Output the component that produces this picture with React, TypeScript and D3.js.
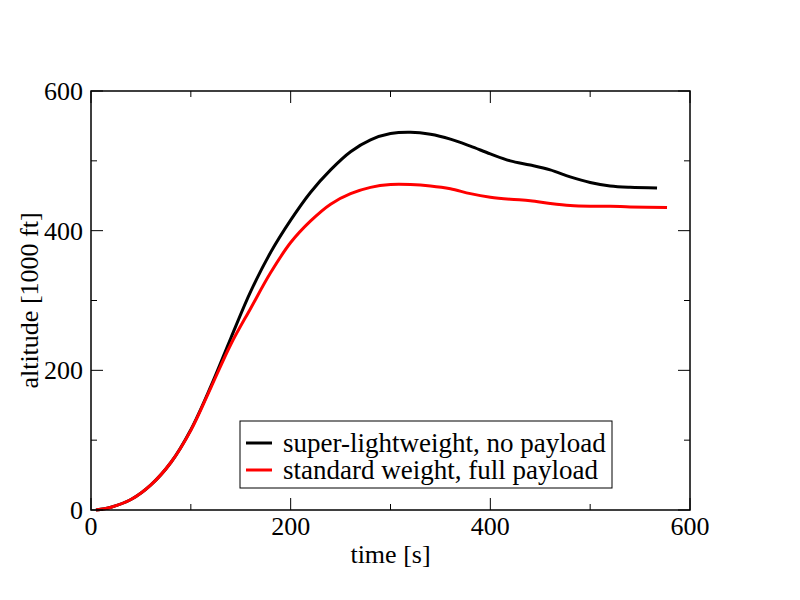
import React from 'react';
import * as d3 from 'd3';

const timeLight = [5, 20, 40, 60, 80, 100, 120, 140, 160, 180, 200, 220, 240, 260, 280, 300, 320, 340, 360, 380, 400, 420, 440, 460, 480, 500, 520, 540, 567];
const altLight = [0, 4, 15, 36, 68, 115, 177, 246, 313, 369, 415, 455, 487, 513, 530, 539, 541, 538, 531, 521, 510, 500, 494, 487, 477, 469, 464, 462, 461];

const timeStd = [5, 20, 40, 60, 80, 100, 120, 140, 160, 180, 200, 220, 240, 260, 280, 300, 320, 340, 360, 380, 400, 420, 440, 460, 480, 500, 520, 540, 577];
const altStd = [0, 4, 15, 36, 68, 114, 175, 237, 289, 340, 383, 414, 438, 453, 462, 466, 466, 464, 460, 453, 448, 445, 443, 439, 436, 435, 435, 434, 433];

const seriesNames = ['super-lightweight, no payload', 'standard weight, full payload'];
const seriesColors = ['#000000', '#ff0000'];

const xTicks = [0, 200, 400, 600];
const yTicks = [0, 200, 400, 600];
const xMinor = [100, 300, 500];
const yMinor = [100, 300, 500];

const FONT = '"Liberation Serif", "Times New Roman", serif';

export default function App() {
  const left = 91, right = 690, top = 91, bottom = 510;

  const x = d3.scaleLinear().domain([0, 600]).range([left, right]);
  const y = d3.scaleLinear().domain([0, 600]).range([bottom, top]);

  const line = d3.line<[number, number]>()
    .x(d => x(d[0]))
    .y(d => y(d[1]))
    .curve(d3.curveCatmullRom.alpha(0.5));

  const series = [
    timeLight.map((t, i) => [t, altLight[i]] as [number, number]),
    timeStd.map((t, i) => [t, altStd[i]] as [number, number]),
  ];

  const major = 12;
  const minor = 6;

  return (
    <svg width={800} height={600} style={{ position: 'absolute', left: 0, top: 0, background: '#fff' }} fontFamily={FONT}>
      <rect x={0} y={0} width={800} height={600} fill="#fff" />

      {/* data */}
      {series.map((s, i) => (
        <path key={i} d={line(s) || ''} fill="none" stroke={seriesColors[i]} strokeWidth={3} strokeLinejoin="round" />
      ))}

      {/* frame */}
      <rect x={left} y={top} width={right - left} height={bottom - top} fill="none" stroke="#000" strokeWidth={1.5} />

      {/* ticks */}
      <g stroke="#000" strokeWidth={1}>
        {xTicks.map(t => (
          <g key={'xt' + t}>
            <line x1={x(t)} x2={x(t)} y1={bottom} y2={bottom - major} />
            <line x1={x(t)} x2={x(t)} y1={top} y2={top + major} />
          </g>
        ))}
        {xMinor.map(t => (
          <g key={'xm' + t}>
            <line x1={x(t)} x2={x(t)} y1={bottom} y2={bottom - minor} />
            <line x1={x(t)} x2={x(t)} y1={top} y2={top + minor} />
          </g>
        ))}
        {yTicks.map(t => (
          <g key={'yt' + t}>
            <line x1={left} x2={left + major} y1={y(t)} y2={y(t)} />
            <line x1={right} x2={right - major} y1={y(t)} y2={y(t)} />
          </g>
        ))}
        {yMinor.map(t => (
          <g key={'ym' + t}>
            <line x1={left} x2={left + minor} y1={y(t)} y2={y(t)} />
            <line x1={right} x2={right - minor} y1={y(t)} y2={y(t)} />
          </g>
        ))}
      </g>

      {/* tick labels */}
      <g fontSize={26} fill="#000">
        {xTicks.map(t => (
          <text key={'xl' + t} x={x(t)} y={bottom + 25} textAnchor="middle">{t}</text>
        ))}
        {yTicks.map(t => (
          <text key={'yl' + t} x={left - 8} y={y(t) + 9} textAnchor="end">{t}</text>
        ))}
      </g>

      {/* axis labels */}
      <text x={(left + right) / 2} y={563} textAnchor="middle" fontSize={26}>time [s]</text>
      <text transform={`translate(38, ${(top + bottom) / 2}) rotate(-90)`} textAnchor="middle" fontSize={26}>altitude [1000 ft]</text>

      {/* legend */}
      <rect x={240} y={421} width={372} height={67} fill="#fff" stroke="#000" strokeWidth={1} />
      {seriesNames.map((name, i) => (
        <g key={name}>
          <line x1={246} x2={272} y1={443 + i * 27} y2={443 + i * 27} stroke={seriesColors[i]} strokeWidth={3} />
          <text x={283} y={452 + i * 27} fontSize={27}>{name}</text>
        </g>
      ))}
    </svg>
  );
}
